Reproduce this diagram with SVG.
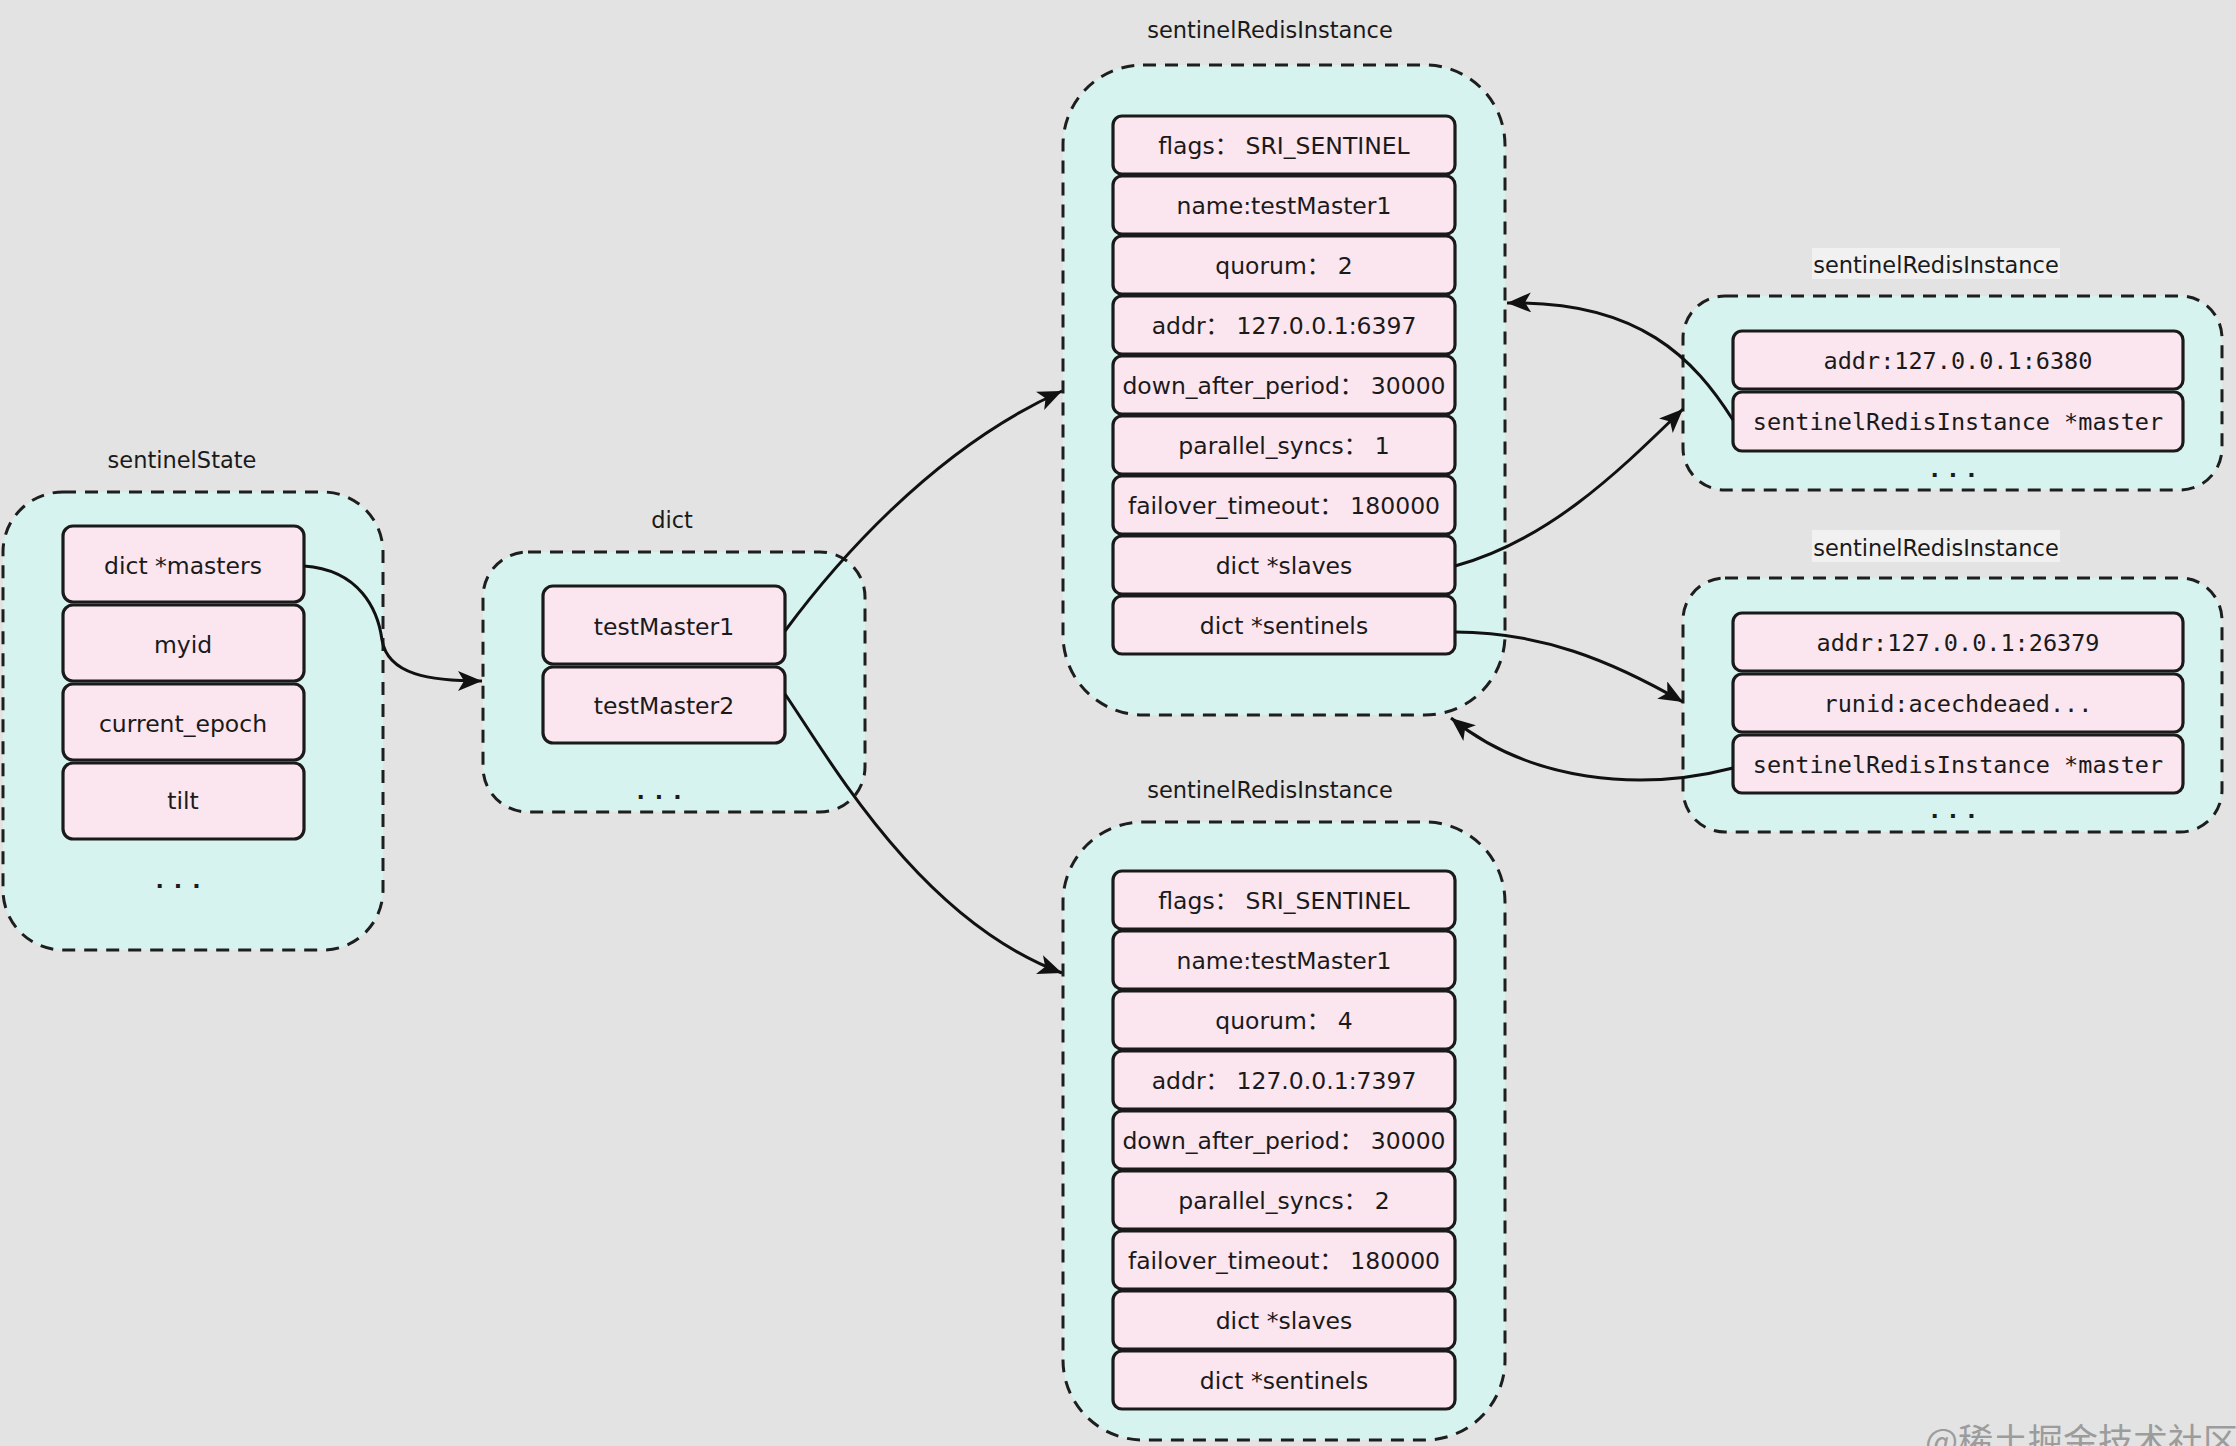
<svg xmlns="http://www.w3.org/2000/svg" width="2236" height="1446" viewBox="0 0 2236 1446">
<defs>
<style>
.bg{fill:#e3e3e3}
.box{fill:#d6f3ef;stroke:#1e1e1e;stroke-width:3;stroke-dasharray:13 9}
.row{fill:#fbe5ef;stroke:#1a1a1a;stroke-width:3.2}
.t{font-family:"DejaVu Sans","Noto Sans CJK SC",sans-serif;font-size:23.5px;fill:#1a1a1a;text-anchor:middle;dominant-baseline:central}
.m{font-family:"DejaVu Sans Mono","Liberation Mono",monospace;font-size:23.5px;fill:#1a1a1a;text-anchor:middle;dominant-baseline:central}
.lbl{font-family:"DejaVu Sans",sans-serif;font-size:22.5px;fill:#1a1a1a;text-anchor:middle;dominant-baseline:central}
.dots{font-family:"DejaVu Sans",sans-serif;font-size:22px;font-weight:bold;fill:#1a1a1a;text-anchor:middle;letter-spacing:10px}
.lblbg{fill:#f1f1f1}
.c{fill:none;stroke:#111;stroke-width:3;marker-end:url(#arr)}
</style>
<marker id="arr" markerUnits="userSpaceOnUse" markerWidth="26" markerHeight="22" refX="24" refY="10" orient="auto">
<path d="M0,0 L24,10 L0,20 L6,10 z" fill="#111"/>
</marker>
</defs>
<rect class="bg" x="0" y="0" width="2236" height="1446"/>

<g id="sentinelState">
<text class="lbl" x="182" y="460">sentinelState</text>
<rect class="box" x="3" y="492" width="380" height="458" rx="60"/>
<rect class="row" x="63" y="526" width="241" height="76" rx="10"/>
<text class="t" x="183" y="566">dict *masters</text>
<rect class="row" x="63" y="605" width="241" height="76" rx="10"/>
<text class="t" x="183" y="645">myid</text>
<rect class="row" x="63" y="684" width="241" height="76" rx="10"/>
<text class="t" x="183" y="724">current_epoch</text>
<rect class="row" x="63" y="763" width="241" height="76" rx="10"/>
<text class="t" x="183" y="801">tilt</text>
<text class="dots" x="183" y="888">...</text>
</g>

<g id="dict">
<text class="lbl" x="672" y="520">dict</text>
<rect class="box" x="483" y="552" width="382" height="260" rx="45"/>
<rect class="row" x="543" y="586" width="242" height="78" rx="10"/>
<text class="t" x="664" y="627">testMaster1</text>
<rect class="row" x="543" y="667" width="242" height="76" rx="10"/>
<text class="t" x="664" y="706">testMaster2</text>
<text class="dots" x="664" y="799">...</text>
</g>

<g id="sri-master1">
<text class="lbl" x="1270" y="30">sentinelRedisInstance</text>
<rect class="box" x="1063" y="65" width="442" height="650" rx="80"/>
<rect class="row" x="1113" y="116" width="342" height="58" rx="9"/>
<text class="t" x="1284" y="146">flags： SRI_SENTINEL</text>
<rect class="row" x="1113" y="176" width="342" height="58" rx="9"/>
<text class="t" x="1284" y="206">name:testMaster1</text>
<rect class="row" x="1113" y="236" width="342" height="58" rx="9"/>
<text class="t" x="1284" y="266">quorum： 2</text>
<rect class="row" x="1113" y="296" width="342" height="58" rx="9"/>
<text class="t" x="1284" y="326">addr： 127.0.0.1:6397</text>
<rect class="row" x="1113" y="356" width="342" height="58" rx="9"/>
<text class="t" x="1284" y="386">down_after_period： 30000</text>
<rect class="row" x="1113" y="416" width="342" height="58" rx="9"/>
<text class="t" x="1284" y="446">parallel_syncs： 1</text>
<rect class="row" x="1113" y="476" width="342" height="58" rx="9"/>
<text class="t" x="1284" y="506">failover_timeout： 180000</text>
<rect class="row" x="1113" y="536" width="342" height="58" rx="9"/>
<text class="t" x="1284" y="566">dict *slaves</text>
<rect class="row" x="1113" y="596" width="342" height="58" rx="9"/>
<text class="t" x="1284" y="626">dict *sentinels</text>
</g>

<g id="sri-master2">
<text class="lbl" x="1270" y="790">sentinelRedisInstance</text>
<rect class="box" x="1063" y="822" width="442" height="618" rx="80"/>
<rect class="row" x="1113" y="871" width="342" height="58" rx="9"/>
<text class="t" x="1284" y="901">flags： SRI_SENTINEL</text>
<rect class="row" x="1113" y="931" width="342" height="58" rx="9"/>
<text class="t" x="1284" y="961">name:testMaster1</text>
<rect class="row" x="1113" y="991" width="342" height="58" rx="9"/>
<text class="t" x="1284" y="1021">quorum： 4</text>
<rect class="row" x="1113" y="1051" width="342" height="58" rx="9"/>
<text class="t" x="1284" y="1081">addr： 127.0.0.1:7397</text>
<rect class="row" x="1113" y="1111" width="342" height="58" rx="9"/>
<text class="t" x="1284" y="1141">down_after_period： 30000</text>
<rect class="row" x="1113" y="1171" width="342" height="58" rx="9"/>
<text class="t" x="1284" y="1201">parallel_syncs： 2</text>
<rect class="row" x="1113" y="1231" width="342" height="58" rx="9"/>
<text class="t" x="1284" y="1261">failover_timeout： 180000</text>
<rect class="row" x="1113" y="1291" width="342" height="58" rx="9"/>
<text class="t" x="1284" y="1321">dict *slaves</text>
<rect class="row" x="1113" y="1351" width="342" height="58" rx="9"/>
<text class="t" x="1284" y="1381">dict *sentinels</text>
</g>

<g id="sri-slave">
<rect class="lblbg" x="1812" y="248" width="248" height="31"/>
<text class="lbl" x="1936" y="265">sentinelRedisInstance</text>
<rect class="box" x="1683" y="296" width="539" height="194" rx="42"/>
<rect class="row" x="1733" y="331" width="450" height="58" rx="9"/>
<text class="m" x="1958" y="361">addr:127.0.0.1:6380</text>
<rect class="row" x="1733" y="392" width="450" height="59" rx="9"/>
<text class="m" x="1958" y="422">sentinelRedisInstance *master</text>
<text class="dots" x="1958" y="477">...</text>
</g>

<g id="sri-sentinel">
<rect class="lblbg" x="1812" y="530" width="248" height="32"/>
<text class="lbl" x="1936" y="548">sentinelRedisInstance</text>
<rect class="box" x="1683" y="578" width="539" height="254" rx="42"/>
<rect class="row" x="1733" y="613" width="450" height="58" rx="9"/>
<text class="m" x="1958" y="643">addr:127.0.0.1:26379</text>
<rect class="row" x="1733" y="674" width="450" height="58" rx="9"/>
<text class="m" x="1958" y="704">runid:acechdeaed...</text>
<rect class="row" x="1733" y="735" width="450" height="58" rx="9"/>
<text class="m" x="1958" y="765">sentinelRedisInstance *master</text>
<text class="dots" x="1958" y="818">...</text>
</g>

<g id="connectors">
<path class="c" d="M304,566 C360,570 378,610 382,640 C388,675 430,681 482,681"/>
<path class="c" d="M785,631 C830,570 930,450 1062,391"/>
<path class="c" d="M785,694 C830,760 920,920 1062,973"/>
<path class="c" d="M1455,566 C1550,540 1620,470 1683,409"/>
<path class="c" d="M1733,420 C1695,360 1640,300 1507,303"/>
<path class="c" d="M1455,632 C1540,632 1610,660 1683,702"/>
<path class="c" d="M1733,768 C1640,792 1530,782 1451,718"/>
</g>

<text x="1925" y="1454" font-family="'Noto Sans CJK SC',sans-serif" font-size="35" fill="#9c9c9c">@稀土掘金技术社区</text>
</svg>
